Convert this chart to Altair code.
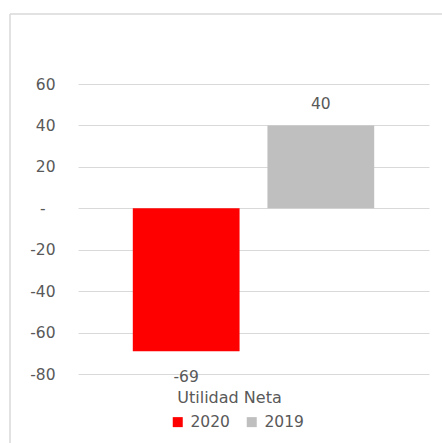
import altair as alt
import pandas as pd

categories = ["Utilidad Neta"]
years = ["2020", "2019"]
values = [-69, 40]
colors = ["#FF0000", "#BFBFBF"]
y_ticks = [-80, -60, -40, -20, 0, 20, 40, 60]

df = pd.DataFrame({"categoria": categories * len(years), "year": years, "value": values})

FONT = "DejaVu Sans"
TXT = "#595959"
FS = 15.5

x_enc = alt.X(
    "year:N",
    sort=years,
    scale=alt.Scale(paddingInner=0.207, paddingOuter=0.407),
    axis=alt.Axis(
        title=categories[0], labels=False, ticks=False, domain=False, grid=False,
        titleX=151, titleY=23, titleAlign="center", titleBaseline="middle",
        titleFont=FONT, titleFontSize=16, titleFontWeight="normal", titleColor=TXT,
    ),
)
y_enc = alt.Y(
    "value:Q",
    scale=alt.Scale(domain=[-80, 60], nice=False, zero=False),
    axis=alt.Axis(
        values=y_ticks, title=None, domain=False, ticks=False,
        labelPadding={"condition": {"test": "datum.value == 0", "value": 33}, "value": 23},
        grid=True, gridColor="#d9d9d9", gridWidth=1,
        labelFont=FONT, labelFontSize=FS, labelColor=TXT,
        labelExpr="datum.value == 0 ? '-' : toString(datum.value)",
    ),
)

base = alt.Chart(df).encode(x=x_enc, y=y_enc)

bars = base.mark_bar().encode(
    color=alt.Color(
        "year:N",
        sort=years,
        scale=alt.Scale(domain=years, range=colors),
        legend=alt.Legend(
            title=None, orient="none", legendX=92, legendY=330, direction="horizontal",
            symbolType="square", symbolSize=100, symbolStrokeWidth=0,
            labelFont=FONT, labelFontSize=FS, labelColor=TXT, labelOffset=5,
            columnPadding=14, padding=0,
        ),
    )
)

labels = base.transform_calculate(lbl="toString(datum.value)")

pos_text = labels.transform_filter("datum.value >= 0").mark_text(
    baseline="middle", dy=-21, font=FONT, fontSize=FS, color=TXT
).encode(text=alt.Text("lbl:N"))

neg_text = labels.transform_filter("datum.value < 0").mark_text(
    baseline="middle", dy=26, font=FONT, fontSize=FS, color=TXT
).encode(text=alt.Text("lbl:N"))

frame_data = alt.Data(values=[{}])
frame_top = alt.Chart(frame_data).mark_rule(color="#d9d9d9", strokeWidth=1.5).encode(
    x=alt.value(-68), x2=alt.value(380), y=alt.value(-70)
)
frame_left = alt.Chart(frame_data).mark_rule(color="#d9d9d9", strokeWidth=1.5).encode(
    x=alt.value(-68), y=alt.value(-70), y2=alt.value(380)
)

chart = alt.layer(frame_top, frame_left, bars, pos_text, neg_text).properties(
    width=351,
    height=290,
    autosize=alt.AutoSizeParams(type="none"),
    padding={"left": 78, "top": 84, "right": 13, "bottom": 69},
    background="white",
).configure_view(stroke=None)

chart.save("out.html", embed_options={"renderer": "svg", "actions": False})
